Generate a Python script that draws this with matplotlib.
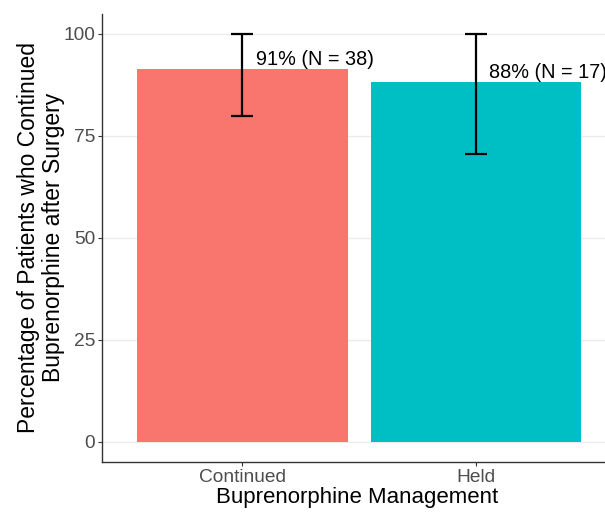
import numpy as np
import matplotlib.pyplot as plt

plt.rcParams['font.family'] = ['Liberation Sans', 'DejaVu Sans']

# Data
groups = ["Continued", "Held"]
pct = [91.4, 88.2]
ci_low = [80.0, 70.6]
ci_high = [100.0, 100.0]
n_patients = [38, 17]
bar_colors = ["#F8766D", "#00BFC4"]

x = np.arange(1, len(groups) + 1)
yerr = [np.array(pct) - np.array(ci_low), np.array(ci_high) - np.array(pct)]

fig = plt.figure(figsize=(6.05, 5.13), dpi=100)
ax = fig.add_axes([102 / 605, 51 / 513, 503 / 605, 448.4 / 513])

ax.bar(x, pct, width=0.9, color=bar_colors, zorder=2)
ax.errorbar(x, pct, yerr=yerr, fmt="none", ecolor="black", elinewidth=1.6,
            capsize=8, capthick=1.6, zorder=3)

for xi, p, n in zip(x, pct, n_patients):
    ax.annotate(f"{round(p)}% (N = {n})", xy=(xi, p), xytext=(9.5, 0),
                textcoords="offset points", ha="left", va="bottom",
                fontsize=14.3, color="black", zorder=4)

ax.set_xlim(0.4, 2.551)
ax.set_ylim(-5, 105)
ax.set_xticks(x)
ax.set_xticklabels(groups)
ax.set_yticks([0, 25, 50, 75, 100])

ax.yaxis.grid(True, color="#EBEBEB", linewidth=1.0, zorder=0)
ax.set_axisbelow(True)
for side in ["top", "right"]:
    ax.spines[side].set_visible(False)
for side in ["left", "bottom"]:
    ax.spines[side].set_color("#333333")
    ax.spines[side].set_linewidth(1.0)
ax.tick_params(axis="both", colors="#333333", length=3, width=0.8,
               labelsize=13.8, labelcolor="#4D4D4D", pad=2)

ax.set_xlabel("Buprenorphine Management", fontsize=16, color="black")
ax.xaxis.set_label_coords(0.507, -0.056)
ax.set_ylabel("Percentage of Patients who Continued\nBuprenorphine after Surgery",
              fontsize=16.5, color="black", linespacing=1.1)
ax.yaxis.set_label_coords(-0.074, 0.5)

fig.savefig("out.png", dpi=100)
